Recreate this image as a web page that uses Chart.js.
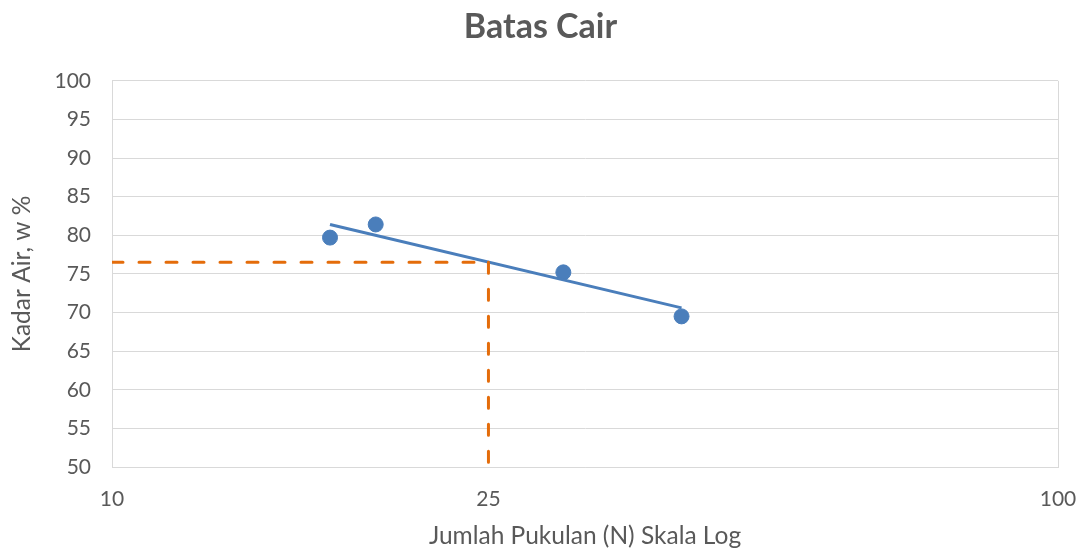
<!DOCTYPE html>
<html>
<head>
<meta charset="utf-8">
<script src="https://cdn.jsdelivr.net/npm/chart.js@4"></script>
<style>
  html, body { margin: 0; padding: 0; background: #fff; }
  #wrap { width: 1081px; height: 551px; }
</style>
</head>
<body>
<div id="wrap"><canvas id="chart" width="1081" height="551"></canvas></div>
<script>
// measured points (N blows, water content %)
const blows = [17, 19, 30, 40];
const waterContent = [79.7, 81.4, 75.2, 69.5];

// trendline ends
const trendBlows = [17, 40];
const trendWater = [81.4, 70.6];

// liquid limit read at N = 25
const llBlows = 25;
const llWater = 76.5;

const xTicks = [10, 25, 100];
const yMin = 50;
const yMax = 100;
const yStep = 5;

const textColor = "#595959";
const gridColor = "#d9d9d9";
const fontFamily = "Lato, 'Open Sans', sans-serif";

const points = blows.map((n, i) => ({ x: n, y: waterContent[i] }));
const trend = trendBlows.map((n, i) => ({ x: n, y: trendWater[i] }));
const llHorizontal = [{ x: xTicks[0], y: llWater }, { x: llBlows, y: llWater }];
const llVertical = [{ x: llBlows, y: llWater }, { x: llBlows, y: yMin }];

const dashed = {
  type: "line",
  borderColor: "#e46c0a",
  borderWidth: 3,
  borderDash: [11, 16],
  borderCapStyle: "round",
  pointRadius: 0,
  fill: false,
};

new Chart(document.getElementById("chart"), {
  type: "scatter",
  data: {
    datasets: [
      { ...dashed, label: "LL horizontal", data: llHorizontal },
      { ...dashed, label: "LL vertical", data: llVertical },
      {
        type: "line",
        label: "Trend",
        data: trend,
        borderColor: "#4a7ebb",
        borderWidth: 3,
        pointRadius: 0,
        fill: false,
      },
      {
        label: "Kadar Air",
        data: points,
        backgroundColor: "#4a7ebb",
        borderColor: "#4a7ebb",
        pointRadius: 7.5,
        pointHoverRadius: 7.5,
      },
    ],
  },
  options: {
    responsive: false,
    animation: false,
    layout: { padding: 0 },
    plugins: {
      legend: { display: false },
      tooltip: { enabled: false },
      title: {
        display: true,
        text: "Batas Cair",
        color: textColor,
        font: { family: fontFamily, size: 34, weight: "bold" },
        padding: { top: 7, bottom: 33 },
      },
    },
    scales: {
      x: {
        type: "logarithmic",
        min: 10,
        max: 100,
        afterBuildTicks: (scale) => {
          scale.ticks = xTicks.map((v) => ({ value: v }));
        },
        afterFit: (scale) => {
          // plot area ends 23px short of the right edge
          scale.height = 84;
          scale.paddingLeft = 0;
          scale.paddingRight = 23;
        },
        ticks: {
          color: textColor,
          font: { family: fontFamily, size: 21 },
          padding: 20,
          maxRotation: 0,
          callback: (v) => String(v),
        },
        grid: {
          drawTicks: false,
          color: (ctx) => (ctx.tick && ctx.tick.value === llBlows ? "transparent" : gridColor),
        },
        border: { color: gridColor },
        title: {
          display: true,
          text: "Jumlah Pukulan (N) Skala Log",
          color: textColor,
          font: { family: fontFamily, size: 24.5 },
          padding: { top: 0, bottom: 0 },
        },
      },
      y: {
        min: yMin,
        max: yMax,
        afterFit: (scale) => { scale.width = 112; },
        ticks: {
          stepSize: yStep,
          color: textColor,
          font: { family: fontFamily, size: 21 },
          padding: 21,
        },
        grid: { drawTicks: false, color: gridColor },
        border: { color: gridColor },
        title: {
          display: true,
          text: "Kadar Air, w %",
          color: textColor,
          font: { family: fontFamily, size: 24.5 },
          padding: { top: 7, bottom: 0 },
        },
      },
    },
  },
});
</script>
</body>
</html>
